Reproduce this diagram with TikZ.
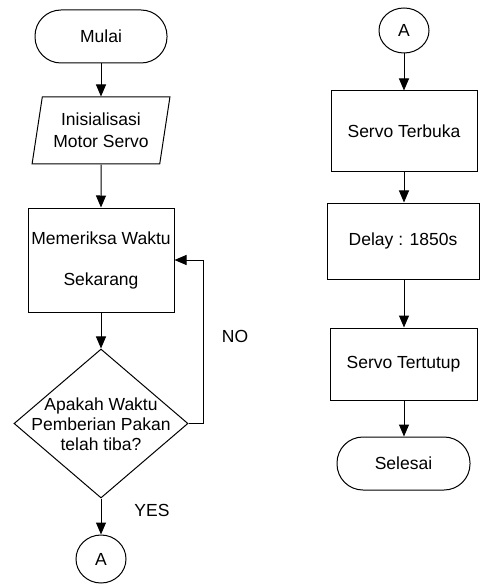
\documentclass[tikz,border=0pt]{standalone}
\usepackage{fontspec}
\setmainfont{Liberation Sans}
\usetikzlibrary{shapes.geometric,arrows.meta}
\begin{document}
\begin{tikzpicture}[x=1pt,y=-1pt,
  every node/.style={font=\fontsize{17.5}{20}\selectfont, inner sep=0pt},
  box/.style={draw, line width=1pt, rectangle},
  term/.style={draw, line width=1pt, rectangle, rounded corners=26pt},
  conn/.style={draw, line width=1pt, ellipse},
  arr/.style={draw, line width=1pt, -{Triangle[width=10pt,length=12pt]}},
  lbl/.style={}]
\useasboundingbox (0,0) rectangle (480,585);
% left column
\node[term, minimum width=132pt, minimum height=53pt] (mulai) at (101,36.5) {Mulai};
\node[draw, line width=1pt, trapezium, trapezium left angle=76.6, trapezium right angle=103.4,
      trapezium stretches=true, minimum width=138pt, minimum height=67pt, align=center] (init) at (101,130.5)
      {Inisialisasi\\[2pt]Motor Servo};
\node[box, minimum width=146pt, minimum height=104pt, align=center] (cek) at (101,260)
      {Memeriksa Waktu\\[21pt]Sekarang};
\node[draw, line width=1pt, diamond, minimum width=174pt, minimum height=149pt] (dec) at (101,423.5) {};
\node[align=center] (dectext) at (101,424) {Apakah Waktu\\Pemberian Pakan\\telah tiba?};
\node[conn, minimum width=50pt, minimum height=48pt] (a1) at (101,559) {A};
\node[lbl] (no) at (235,336) {NO};
\node[lbl] (yes) at (152,510) {YES};
\coordinate (loopb) at (203,423.5);
\coordinate (loopt) at (203,260);
% right column
\node[conn, minimum width=50pt, minimum height=45pt] (a2) at (404,30.5) {A};
\node[box, minimum width=146pt, minimum height=81pt] (buka) at (404,131.5) {Servo Terbuka};
\node[box, minimum width=152pt, minimum height=76pt] (delay) at (403,241) {Delay : 1850s};
\node[box, minimum width=147pt, minimum height=72pt] (tutup) at (403.5,364) {Servo Tertutup};
\node[term, minimum width=133pt, minimum height=53pt] (selesai) at (403.5,463.5) {Selesai};
% connectors
\draw[arr] (mulai) -- (init);
\draw[arr] (init.south) -- (cek.north);
\draw[arr] (cek) -- (dec);
\draw[arr] (dec.east) -- (loopb) -- (loopt) -- (cek.east);
\draw[arr] (dec.south) -- (a1);
\draw[arr] (a2) -- (buka);
\draw[arr] (buka.south) -- (buka.south |- delay.north);
\draw[arr] (delay.south -| buka.south) -- (buka.south |- tutup.north);
\draw[arr] (tutup.south -| buka.south) -- (buka.south |- selesai.north);
\end{tikzpicture}
\end{document}
